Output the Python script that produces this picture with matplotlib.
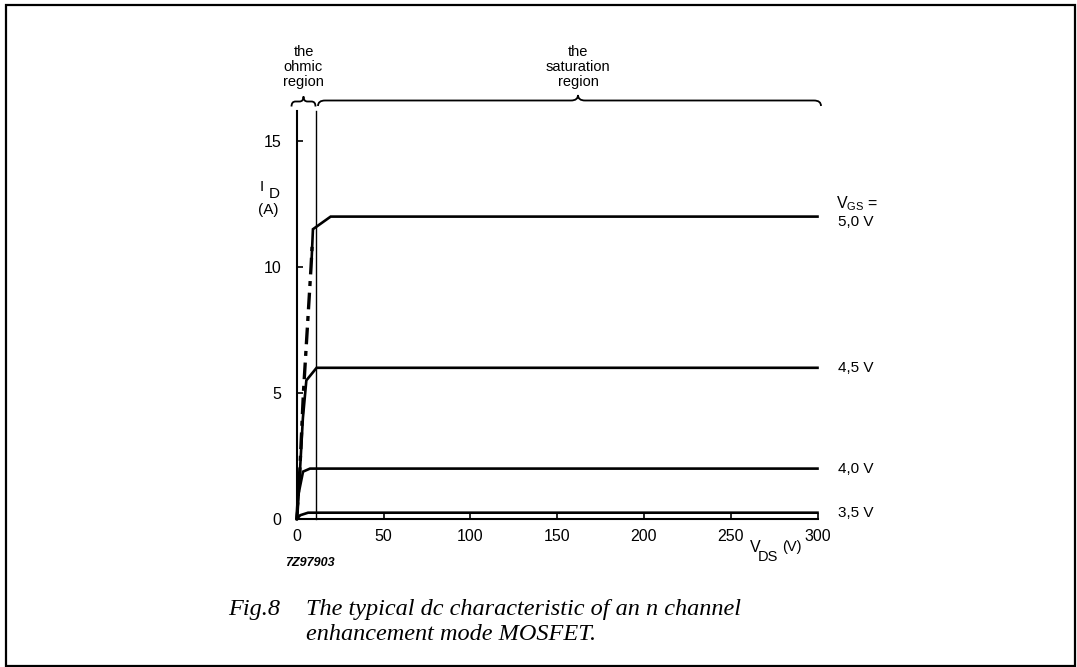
import matplotlib
matplotlib.use("Agg")
import matplotlib.pyplot as plt
from matplotlib.path import Path
from matplotlib.patches import PathPatch, Rectangle

# ---- data ----
x_ticks = [0, 50, 100, 150, 200, 250, 300]
y_ticks = [0, 5, 10, 15]

vgs_labels = ["5,0 V", "4,5 V", "4,0 V", "3,5 V"]

v50_x = [8.6, 9.3, 19.5, 300]
v50_y = [10.4, 11.5, 12.0, 12.0]
v45_x = [0, 1.5, 3.5, 5.5, 11.4, 300]
v45_y = [0, 1.5, 4.0, 5.5, 6.0, 6.0]
v40_x = [0, 1.0, 3.6, 7.6, 300]
v40_y = [0, 1.0, 1.88, 2.0, 2.0]
v35_x = [0, 2.0, 6.5, 300]
v35_y = [0, 0.15, 0.25, 0.25]

# ohmic/saturation boundary (dash-dot)
bound_x = [0, 1.8, 3.8, 6.0, 8.2, 8.8]
bound_y = [0, 2.0, 5.0, 7.5, 10.0, 10.8]

region_split = 11  # V_DS where saturation region starts

W, H = 1077, 667
fig = plt.figure(figsize=(W / 100, H / 100), dpi=100)
plt.rcParams['font.family'] = ['Liberation Sans', 'DejaVu Sans']

def fx(px):
    return px / W

def fy(py):
    return 1 - py / H

# border
fig.patches.append(Rectangle((fx(6), fy(666)), fx(1075) - fx(6), fy(5) - fy(666),
                             transform=fig.transFigure, fill=False, lw=1.6, ec='black'))

ax = fig.add_axes([fx(296.8), fy(519), fx(817.5) - fx(296.8), fy(111) - fy(519)])
ax.set_xlim(0, 300)
ax.set_ylim(0, (519 - 111) / 25.2)
for s in ['top', 'right']:
    ax.spines[s].set_visible(False)
for s in ['left', 'bottom']:
    ax.spines[s].set_linewidth(1.5)
ax.set_xticks(x_ticks)
ax.set_yticks(y_ticks)
ax.tick_params(direction='in', length=4, width=1.2, labelsize=11.5)
ax.tick_params(axis='y', pad=11)
ax.tick_params(axis='x', pad=7)
ax.patch.set_alpha(0)

lw = 1.9
for xs, ys in [(v50_x, v50_y), (v45_x, v45_y), (v40_x, v40_y), (v35_x, v35_y)]:
    ax.plot(xs, ys, color='black', lw=lw, solid_joinstyle='miter', clip_on=False)
ax.plot(bound_x, bound_y, color='black', lw=2.4, linestyle=(0, (5, 2, 1.5, 2)), clip_on=False)

ax.plot([region_split, region_split], [0, (519 - 111) / 25.2], color='black', lw=1.0, clip_on=False)

# right-hand labels
label_y = [v50_y[-1], v45_y[-1], v40_y[-1], v35_y[-1]]
for lab, yv in zip(vgs_labels, label_y):
    ax.annotate(lab, xy=(300, yv), xytext=(15, -4 if lab == "5,0 V" else 0), textcoords='offset points',
                ha='left', va='center', fontsize=11)
ax.text(fx(836), fy(204), r"$\mathregular{V_{GS}}$ =", transform=fig.transFigure,
        ha='left', va='center', fontsize=11.5)

# axis labels
fig.text(fx(262), fy(187), "I", ha='center', va='center', fontsize=11)
fig.text(fx(274), fy(194), "D", ha='center', va='center', fontsize=11)
fig.text(fx(268), fy(210), "(A)", ha='center', va='center', fontsize=11)
fig.text(fx(755), fy(548), "V", ha='center', va='center', fontsize=11.5)
fig.text(fx(768), fy(557), "DS", ha='center', va='center', fontsize=10.5)
fig.text(fx(792), fy(547), "(V)", ha='center', va='center', fontsize=10.5)

# braces (pixel coordinates)
def brace(x0, x1, xm, y, h, d):
    verts = [(x0, y + h), (x0, y), (x0 + d, y),
             (xm - d, y), (xm, y), (xm, y - h),
             (xm, y), (xm + d, y),
             (x1 - d, y), (x1, y), (x1, y + h)]
    codes = [Path.MOVETO, Path.CURVE3, Path.CURVE3,
             Path.LINETO, Path.CURVE3, Path.CURVE3,
             Path.CURVE3, Path.CURVE3,
             Path.LINETO, Path.CURVE3, Path.CURVE3]
    verts = [(fx(a), fy(b)) for a, b in verts]
    fig.patches.append(PathPatch(Path(verts, codes), transform=fig.transFigure,
                                 fill=False, lw=1.3, ec='black'))

brace(291.5, 315.5, 303.5, 101.5, 5, 4)
brace(318, 821, 578, 100.5, 5.5, 7)

fig.text(fx(303.5), fy(67), "the\nohmic\nregion", ha='center', va='center',
         fontsize=10.5, linespacing=1.1)
fig.text(fx(578), fy(67), "the\nsaturation\nregion", ha='center', va='center',
         fontsize=10.5, linespacing=1.1)

fig.text(fx(285), fy(563), "7Z97903", ha='left', va='center', fontsize=9,
         style='italic', weight='bold')

fig.text(fx(228), fy(610), "Fig.8", ha='left', va='center', fontsize=17.5,
         family='Liberation Serif', style='italic')
fig.text(fx(306), fy(610), "The typical dc characteristic of an n channel", ha='left', va='center',
         fontsize=17.5, family='Liberation Serif', style='italic')
fig.text(fx(306), fy(634), "enhancement mode MOSFET.", ha='left', va='center',
         fontsize=17.5, family='Liberation Serif', style='italic')

fig.savefig("out.png", dpi=100)
